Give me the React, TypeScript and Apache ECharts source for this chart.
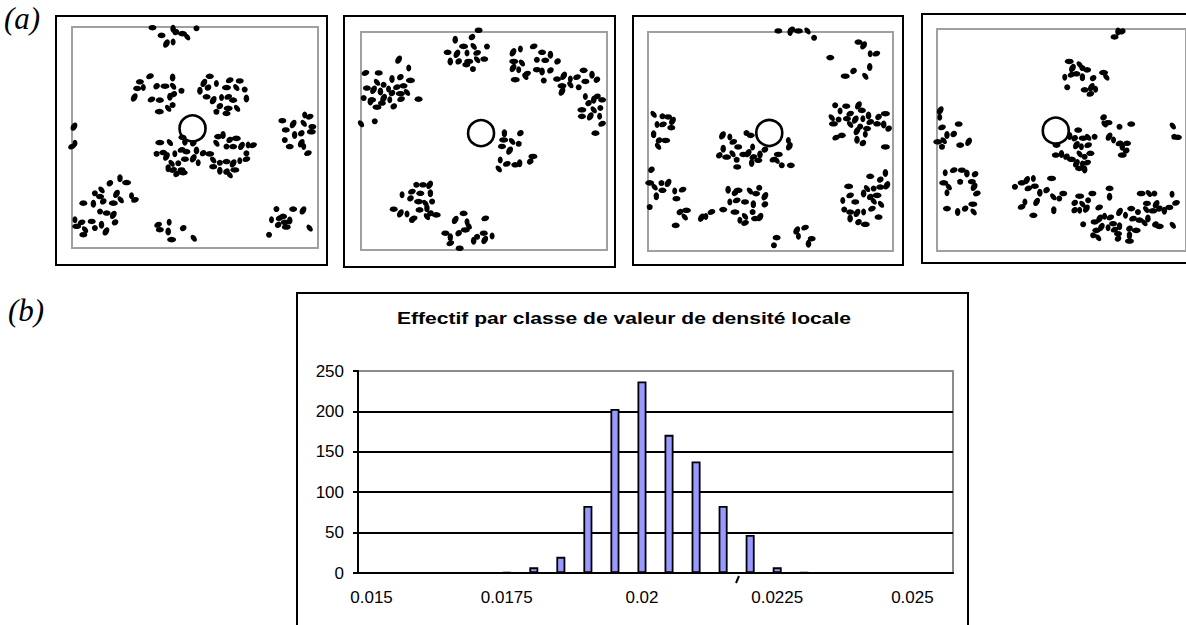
import React, { useEffect, useRef } from "react";
import * as echarts from "echarts";

// ---- Panel (a): point positions, x 0..100 (left->right), y 0..100 (top->bottom) inside the grey frame
const panel1Dots: number[][] = [
  [32.7, 0.3], [41.1, 0.8], [42.2, 2.3], [44.9, 3.0], [46.8, 4.5], [50.6, 0.6], [36.4, 3.8], [38.4, 7.5], [41.1, 6.8],
  [31.7, 22.3], [27.6, 24.8], [40.9, 22.9], [34.4, 26.8], [37.8, 26.8], [41.1, 26.8], [44.5, 28.9], [26.5, 27.8],
  [25.3, 31.9], [29.0, 27.4], [32.3, 32.8], [35.7, 33.1], [39.8, 31.6], [41.4, 30.4], [35.5, 38.3], [39.1, 36.8], [40.9, 35.3],
  [56.0, 22.3], [53.6, 25.3], [58.7, 25.6], [64.1, 24.1], [68.2, 24.4], [52.0, 28.9], [55.3, 27.4], [62.8, 27.4],
  [66.8, 27.4], [70.2, 28.3], [54.7, 31.6], [57.4, 33.1], [60.8, 31.9], [63.5, 31.6], [65.5, 33.1], [70.9, 32.3],
  [60.1, 35.8], [63.5, 36.8], [67.1, 36.8], [58.7, 38.3], [62.8, 39.1],
  [0.8, 45.1], [1.2, 52.6], [0.0, 54.1],
  [44.9, 49.9], [45.9, 51.9], [49.3, 52.6], [35.7, 52.3], [39.8, 52.3], [34.4, 57.4], [37.1, 56.8], [38.4, 58.6],
  [41.8, 57.4], [44.5, 55.6], [46.5, 56.4], [50.6, 55.9], [53.3, 57.1], [56.0, 57.4], [40.5, 61.7], [43.2, 61.7],
  [45.9, 59.8], [49.3, 59.4], [51.3, 61.4], [41.1, 64.7], [44.5, 64.7], [39.1, 63.9], [42.5, 66.5], [45.2, 65.9],
  [57.4, 60.2], [60.1, 61.4], [62.8, 60.9], [65.5, 61.7], [68.2, 60.5], [70.9, 59.8], [59.4, 49.6], [61.4, 48.9],
  [64.1, 51.1], [66.8, 50.4], [58.7, 52.6], [62.8, 54.1], [65.5, 54.1], [68.9, 53.8], [71.6, 53.4], [73.6, 53.5],
  [57.4, 63.2], [60.1, 65.0], [62.8, 65.4], [66.2, 64.7], [64.1, 66.9], [70.9, 57.1],
  [85.5, 42.4], [89.9, 43.9], [94.6, 39.8], [96.6, 40.6], [86.9, 46.6], [90.5, 48.9], [93.2, 48.1], [97.3, 47.4],
  [94.2, 43.6], [86.5, 51.1], [88.5, 54.1], [93.2, 52.6], [94.2, 54.1], [95.9, 57.1], [97.7, 45.1],
  [19.5, 68.4], [15.4, 70.7], [22.2, 70.4], [12.0, 73.7], [9.3, 75.2], [11.4, 76.7], [18.1, 75.5], [24.2, 76.4],
  [25.6, 78.2], [4.6, 79.7], [8.7, 80.0], [12.7, 78.9], [16.8, 79.7], [19.8, 78.2], [11.4, 83.5], [14.1, 84.2],
  [16.8, 85.0], [1.2, 87.2], [3.9, 88.4], [8.0, 88.0], [12.0, 89.5], [17.5, 88.4], [1.9, 90.2], [5.3, 91.7],
  [9.3, 91.0], [4.6, 94.0], [13.8, 92.5],
  [39.5, 88.3], [35.0, 89.5], [35.7, 91.7], [39.1, 92.5], [45.2, 91.0], [40.5, 96.2], [49.5, 95.6],
  [83.1, 82.4], [89.9, 82.4], [93.9, 83.0], [81.1, 87.2], [84.4, 86.5], [86.5, 88.4], [88.5, 87.5], [83.8, 89.5],
  [87.1, 90.5], [96.6, 91.0], [80.1, 94.0], [85.8, 85.7],
];

const panel2Dots: number[][] = [
  [47.8, -0.8], [38.3, 3.5], [45.1, 2.3], [41.7, 6.6], [45.8, 6.6], [51.2, 6.6], [35.2, 9.3], [39.0, 10.0],
  [43.1, 9.6], [47.2, 9.6], [50.1, 12.4], [36.3, 13.5], [39.7, 13.5], [43.8, 13.5], [47.2, 12.7], [45.5, 17.0], [42.8, 15.0],
  [15.3, 12.7], [19.4, 16.5], [1.8, 18.8], [7.2, 18.8], [12.6, 21.6], [16.0, 20.7], [20.1, 22.2], [6.5, 23.1],
  [9.2, 24.2], [2.4, 25.7], [5.1, 26.5], [11.2, 26.2], [14.6, 25.3], [17.3, 24.7], [7.9, 27.3], [12.6, 28.0],
  [16.0, 28.3], [18.7, 27.7], [1.1, 30.3], [4.5, 31.1], [9.2, 30.3], [11.7, 31.1], [16.3, 30.8], [23.4, 30.8],
  [3.8, 31.9], [13.3, 34.1], [6.5, 34.5], [0.0, 42.1], [5.6, 40.9], [8.5, 32.6],
  [61.8, 9.3], [64.8, 7.8], [70.2, 6.6], [73.6, 9.3], [77.0, 10.4], [79.9, 13.5], [62.1, 13.5], [65.4, 14.2],
  [71.5, 12.7], [74.9, 13.0], [61.8, 16.5], [64.1, 17.3], [67.5, 19.1], [71.5, 17.3], [73.6, 18.1], [77.0, 17.6],
  [62.7, 21.9], [66.8, 20.4], [74.3, 22.2], [79.7, 21.6], [82.4, 20.1], [85.1, 21.6], [87.8, 20.7], [90.5, 17.6],
  [93.9, 19.6], [95.9, 21.9], [81.7, 24.7], [85.1, 24.2], [88.5, 25.3], [91.2, 22.7], [81.7, 27.3], [91.2, 29.6],
  [95.9, 29.6], [98.0, 31.1], [94.6, 31.1], [92.5, 32.6], [89.8, 35.7], [94.6, 35.7], [97.3, 34.9], [89.8, 38.7],
  [93.2, 38.7], [97.0, 38.7], [98.0, 42.1], [95.3, 46.4],
  [58.3, 46.4], [64.8, 46.4], [58.0, 49.5], [61.4, 50.2], [64.1, 51.3], [57.3, 52.5], [60.4, 54.4], [56.6, 58.7],
  [59.3, 60.5], [62.7, 60.9], [64.5, 60.2], [68.8, 59.4], [69.9, 57.1], [56.0, 62.8],
  [22.5, 70.1], [25.2, 70.1], [27.9, 70.1], [16.7, 74.7], [20.7, 73.2], [24.1, 74.0], [28.2, 74.0], [20.1, 76.3],
  [23.4, 77.8], [26.2, 78.6], [28.9, 77.8], [13.3, 81.3], [16.0, 83.2], [18.7, 83.5], [21.4, 85.5], [23.8, 81.6],
  [26.8, 80.9], [28.2, 83.2], [30.6, 83.9], [26.8, 84.7], [20.7, 86.2],
  [41.7, 83.2], [38.3, 86.2], [43.1, 87.0], [50.5, 85.5], [34.3, 92.3], [36.3, 94.2], [39.7, 92.3], [42.4, 90.8],
  [43.8, 89.0], [47.2, 93.9], [49.9, 92.3], [50.3, 95.4], [53.3, 93.6], [36.3, 96.9], [40.1, 99.2], [45.8, 95.7],
];

const panel3Dots: number[][] = [
  [53.2, -0.5], [58.0, 0.0], [58.7, -1.1], [61.4, -0.5], [65.1, -0.5], [67.8, 2.6],
  [85.9, 4.6], [88.0, 6.1], [90.7, 9.9], [93.2, 9.9], [74.4, 11.7], [90.5, 16.0], [83.9, 17.8], [80.5, 20.2], [88.7, 20.2],
  [76.4, 33.5], [80.9, 33.9], [85.9, 33.5], [78.4, 36.1], [82.5, 37.3], [87.3, 35.8], [90.0, 38.1], [94.1, 38.8],
  [96.9, 37.3], [75.0, 39.1], [77.8, 40.0], [81.2, 39.6], [84.6, 40.0], [87.7, 39.6], [90.7, 41.1], [93.5, 41.9],
  [96.2, 42.2], [98.2, 44.1], [75.7, 41.9], [82.5, 42.2], [86.6, 43.1], [89.4, 44.1], [85.3, 45.2], [88.7, 46.7],
  [76.8, 48.2], [79.1, 47.2], [85.3, 49.2], [87.7, 50.7], [96.9, 52.5],
  [2.3, 37.6], [5.9, 38.5], [8.2, 38.8], [10.0, 40.6], [3.7, 42.2], [6.1, 42.2], [9.5, 43.7], [2.3, 46.7],
  [4.5, 49.5], [7.2, 49.5], [4.1, 52.2],
  [40.2, 46.1], [41.9, 47.2], [30.4, 47.2], [33.4, 47.9], [34.8, 50.2], [36.8, 52.5], [30.7, 53.3], [29.1, 56.3],
  [32.1, 57.1], [34.5, 55.6], [36.2, 58.3], [38.9, 55.9], [40.9, 55.3], [42.7, 52.5], [43.0, 57.1], [45.0, 58.6],
  [42.3, 59.8], [47.7, 53.7], [53.2, 55.9], [52.5, 58.6], [54.6, 60.9], [58.3, 60.9], [57.7, 52.2], [57.3, 49.5],
  [51.2, 58.3], [36.4, 61.6], [45.7, 55.9],
  [1.4, 62.9], [0.7, 68.9], [2.7, 70.8], [5.5, 68.9], [5.9, 72.3], [8.2, 68.9], [10.9, 72.6], [14.1, 72.0],
  [11.6, 76.1], [3.4, 75.0], [13.0, 82.2], [15.7, 81.4], [15.0, 84.5], [0.7, 79.9], [11.3, 88.3], [21.8, 84.8],
  [23.6, 84.2], [25.9, 82.2], [30.7, 81.1],
  [32.7, 72.0], [35.5, 73.5], [36.8, 72.3], [41.6, 72.6], [45.4, 71.1], [44.1, 73.8], [47.7, 75.0], [33.4, 77.6],
  [36.2, 76.9], [39.6, 77.6], [43.0, 78.7], [47.7, 78.7], [35.5, 82.2], [39.6, 84.2], [42.7, 82.2], [43.7, 85.2],
  [45.7, 84.5], [37.5, 86.0], [39.6, 87.2],
  [90.7, 65.9], [96.9, 64.4], [94.8, 67.4], [81.9, 70.5], [89.4, 71.5], [92.1, 71.5], [94.8, 70.8], [97.5, 70.0],
  [79.5, 76.9], [82.5, 74.6], [84.6, 77.6], [88.0, 73.8], [90.7, 75.3], [93.5, 74.6], [95.1, 78.7], [80.1, 81.1],
  [82.5, 82.2], [85.3, 82.6], [88.0, 82.2], [91.4, 80.7], [94.1, 84.5], [82.5, 85.2], [85.9, 86.8], [88.7, 87.8], [92.1, 77.2],
  [51.4, 97.4], [52.5, 93.9], [60.7, 90.6], [61.4, 93.3], [64.1, 89.3], [66.8, 94.4], [65.5, 96.7],
];

const panel4Dots: number[][] = [
  [71.3, 3.6], [72.7, 1.1], [74.4, 1.1],
  [53.1, 14.6], [57.3, 16.1], [58.4, 17.6], [60.3, 18.4], [54.4, 17.6], [51.3, 21.7], [54.0, 20.6], [56.0, 20.2],
  [58.4, 21.7], [62.7, 22.1], [66.9, 19.6], [68.0, 21.7], [52.3, 26.2], [59.3, 27.4], [62.0, 26.2], [63.7, 27.1], [61.6, 29.2],
  [56.7, 45.5], [53.3, 48.2], [55.3, 49.2], [58.7, 49.2], [60.7, 48.8], [63.3, 48.5], [48.0, 52.3], [56.0, 52.3],
  [58.0, 53.0], [60.7, 52.3], [47.7, 56.8], [50.0, 56.3], [52.0, 57.5], [54.0, 58.7], [57.3, 56.3], [59.3, 57.5],
  [61.6, 56.0], [56.0, 60.5], [58.4, 60.8], [60.3, 60.2], [57.1, 62.8], [59.3, 63.3],
  [66.9, 39.8], [68.7, 42.2], [67.3, 42.8], [73.3, 44.0], [78.0, 42.8], [69.1, 48.5], [70.9, 50.0], [73.3, 51.5],
  [76.3, 51.5], [74.4, 53.0], [76.0, 54.8], [74.4, 56.8],
  [94.7, 43.7], [95.3, 48.5], [96.7, 48.8],
  [1.3, 36.7], [1.1, 39.8], [2.0, 44.3], [8.7, 42.8], [4.0, 47.7], [6.7, 47.3], [0.3, 50.8], [2.7, 50.3],
  [2.0, 53.0], [9.3, 52.3], [12.7, 50.8],
  [3.3, 64.8], [6.7, 63.6], [10.0, 63.6], [12.0, 65.1], [15.3, 65.4], [2.7, 69.3], [4.7, 71.1], [9.3, 68.8],
  [14.0, 68.8], [14.9, 71.1], [4.0, 73.8], [16.0, 74.1], [4.0, 80.9], [8.3, 82.4], [11.3, 80.9], [14.4, 78.9], [14.7, 82.4],
  [31.3, 71.1], [34.0, 69.3], [36.0, 68.1], [38.7, 67.3], [36.7, 71.8], [39.3, 70.8], [41.3, 73.8], [44.0, 72.6],
  [46.0, 67.3], [46.7, 75.6], [49.1, 76.4], [50.7, 74.1], [40.0, 77.9], [35.3, 77.9], [34.0, 80.1], [38.7, 83.9], [46.9, 81.6],
  [55.3, 78.3], [57.3, 75.3], [58.4, 78.9], [60.7, 77.1], [62.4, 74.1], [60.0, 80.9], [57.3, 81.6], [65.1, 80.4],
  [69.3, 71.8], [69.3, 75.6], [55.3, 81.6],
  [82.0, 74.1], [85.1, 74.1], [87.3, 74.1], [84.3, 78.6], [88.0, 78.9], [94.4, 74.4], [96.0, 78.3], [93.3, 80.4],
  [91.3, 81.9], [89.3, 80.9], [86.7, 81.9], [84.0, 81.3], [80.7, 82.4], [78.0, 80.9], [73.3, 82.4], [75.7, 83.9],
  [78.7, 85.4], [81.3, 86.1], [84.7, 85.4], [87.7, 88.0], [89.3, 88.9], [94.7, 88.4], [58.7, 88.0], [63.3, 86.9],
  [65.3, 85.4], [67.3, 84.3], [69.6, 84.9], [70.7, 87.7], [73.3, 88.9], [77.3, 89.9], [80.0, 90.7], [83.3, 87.3],
  [62.7, 92.9], [64.0, 90.7], [66.0, 89.2], [68.7, 89.5], [71.3, 90.4], [72.7, 92.2], [77.3, 92.9], [72.7, 94.4],
  [77.3, 95.5], [64.7, 94.0],
];

// centre of the empty query circle in each panel
const queryCenters: number[][] = [[49.0, 45.9], [48.8, 46.4], [49.5, 46.1], [47.7, 45.8]];
const panelDots = [panel1Dots, panel2Dots, panel3Dots, panel4Dots];

// ---- Panel (b): histogram
const densityClasses: string[] = [
  "0.015", "0.0155", "0.016", "0.0165", "0.017", "0.0175", "0.018", "0.0185", "0.019", "0.0195", "0.02",
  "0.0205", "0.021", "0.0215", "0.022", "0.0225", "0.023", "0.0235", "0.024", "0.0245", "0.025", "0.0255",
];
const counts: number[] = [0, 0, 0, 0, 0, 1, 7, 20, 83, 203, 237, 171, 138, 83, 47, 7, 1, 0, 0, 0, 0, 0];
const histTitle = "Effectif par classe de valeur de densité locale";

// layout (pixels)
const panelFrames = [
  { left: 72, top: 27, width: 246, height: 221 },
  { left: 361, top: 32, width: 246, height: 218 },
  { left: 648, top: 32, width: 245, height: 219 },
  { left: 937, top: 29, width: 252, height: 222 },
];
const panelBoxes = [
  { x: 56, y: 16, w: 271, h: 249 },
  { x: 344, y: 16, w: 271, h: 251 },
  { x: 633, y: 16, w: 270, h: 249 },
  { x: 922, y: 14, w: 280, h: 249 },
];

export default function App() {
  const ref = useRef<HTMLDivElement>(null);
  useEffect(() => {
    if (!ref.current) return;
    const chart = echarts.init(ref.current, null, { renderer: "svg" });
    const rots = [0, 90, 35, 0, 130, 90, 0, 60, 90, 20];
    const sizes = [[8, 5.5], [8, 5.5], [7, 6], [9, 5.5], [8, 5], [6, 6], [8, 5.5], [9, 6], [7, 5], [8, 5.5]];

    const grids: any[] = panelFrames.map((f) => ({
      ...f,
      show: true,
      borderColor: "#a0a0a0",
      borderWidth: 2,
      backgroundColor: "transparent",
    }));
    grids.push({
      left: 358,
      top: 371,
      width: 595,
      height: 202,
      show: true,
      borderColor: "#8c8c8c",
      borderWidth: 2,
      backgroundColor: "transparent",
    });

    const xAxes: any[] = panelFrames.map((_, i) => ({
      type: "value", gridIndex: i, min: 0, max: 100, show: false,
    }));
    const yAxes: any[] = panelFrames.map((_, i) => ({
      type: "value", gridIndex: i, min: 0, max: 100, inverse: true, show: false,
    }));
    xAxes.push({
      type: "category",
      gridIndex: 4,
      data: densityClasses,
      boundaryGap: true,
      axisLine: { lineStyle: { color: "#000", width: 2 } },
      axisTick: { interval: 0, length: 9, lineStyle: { color: "#000", width: 2 } },
      axisLabel: {
        interval: 4,
        color: "#000",
        fontSize: 17,
        fontFamily: "Liberation Sans, Arial, sans-serif",
        margin: 16,
      },
    });
    yAxes.push({
      type: "value",
      gridIndex: 4,
      min: 0,
      max: 250,
      interval: 50,
      axisLine: { show: true, lineStyle: { color: "#000", width: 2 } },
      axisTick: { show: true, length: 5, lineStyle: { color: "#000", width: 2 } },
      axisLabel: {
        color: "#000",
        fontSize: 17,
        fontFamily: "Liberation Sans, Arial, sans-serif",
        margin: 14,
      },
      splitLine: { show: true, showMaxLine: false, lineStyle: { color: "#000", width: 2 } },
    });

    const series: any[] = [];
    panelDots.forEach((dots, i) => {
      series.push({
        type: "scatter",
        xAxisIndex: i,
        yAxisIndex: i,
        data: [queryCenters[i]],
        symbol: "circle",
        symbolSize: 26,
        clip: false,
        itemStyle: { color: "#fff", borderColor: "#000", borderWidth: 2.6, opacity: 1 },
        z: 2,
        silent: true,
      });
      series.push({
        type: "scatter",
        xAxisIndex: i,
        yAxisIndex: i,
        data: dots,
        symbol: "circle",
        symbolSize: (_v: any, p: any) => sizes[p.dataIndex % sizes.length],
        symbolRotate: (_v: any, p: any) => rots[p.dataIndex % rots.length],
        clip: false,
        itemStyle: { color: "#000", opacity: 1 },
        z: 3,
        silent: true,
      });
    });
    series.push({
      type: "bar",
      xAxisIndex: 4,
      yAxisIndex: 4,
      data: counts,
      barWidth: 9,
      itemStyle: { color: "#9999ff", borderColor: "#000", borderWidth: 1.8 },
      z: 3,
      silent: true,
    });

    const graphics: any[] = panelBoxes.map((b) => ({
      type: "rect",
      shape: { x: b.x, y: b.y, width: b.w, height: b.h },
      style: { fill: "none", stroke: "#000", lineWidth: 2 },
      silent: true,
    }));
    graphics.push({
      type: "rect",
      shape: { x: 297, y: 293, width: 671, height: 360 },
      style: { fill: "none", stroke: "#000", lineWidth: 2 },
      silent: true,
    });
    graphics.push({
      type: "text",
      x: 4,
      y: 3,
      style: {
        text: "(a)",
        font: "italic 31px 'Liberation Serif', 'Times New Roman', serif",
        fill: "#000",
      },
    });
    graphics.push({
      type: "text",
      x: 8,
      y: 295,
      style: {
        text: "(b)",
        font: "italic 31px 'Liberation Serif', 'Times New Roman', serif",
        fill: "#000",
      },
    });
    graphics.push({
      type: "text",
      x: 624,
      y: 318,
      scaleX: 1.24,
      style: {
        text: histTitle,
        font: "bold 17px 'Liberation Sans', Arial, sans-serif",
        fill: "#000",
        align: "center",
        verticalAlign: "middle",
      },
    });
    graphics.push({
      type: "line",
      shape: { x1: 736, y1: 583, x2: 739, y2: 576 },
      style: { stroke: "#000", lineWidth: 2 },
      silent: true,
    });

    chart.setOption({
      animation: false,
      backgroundColor: "#fff",
      grid: grids,
      xAxis: xAxes,
      yAxis: yAxes,
      series,
      graphic: graphics,
    });
    return () => chart.dispose();
  }, []);
  return (
    <div
      ref={ref}
      style={{ position: "fixed", left: 0, top: 0, width: 1186, height: 625 }}
    />
  );
}
